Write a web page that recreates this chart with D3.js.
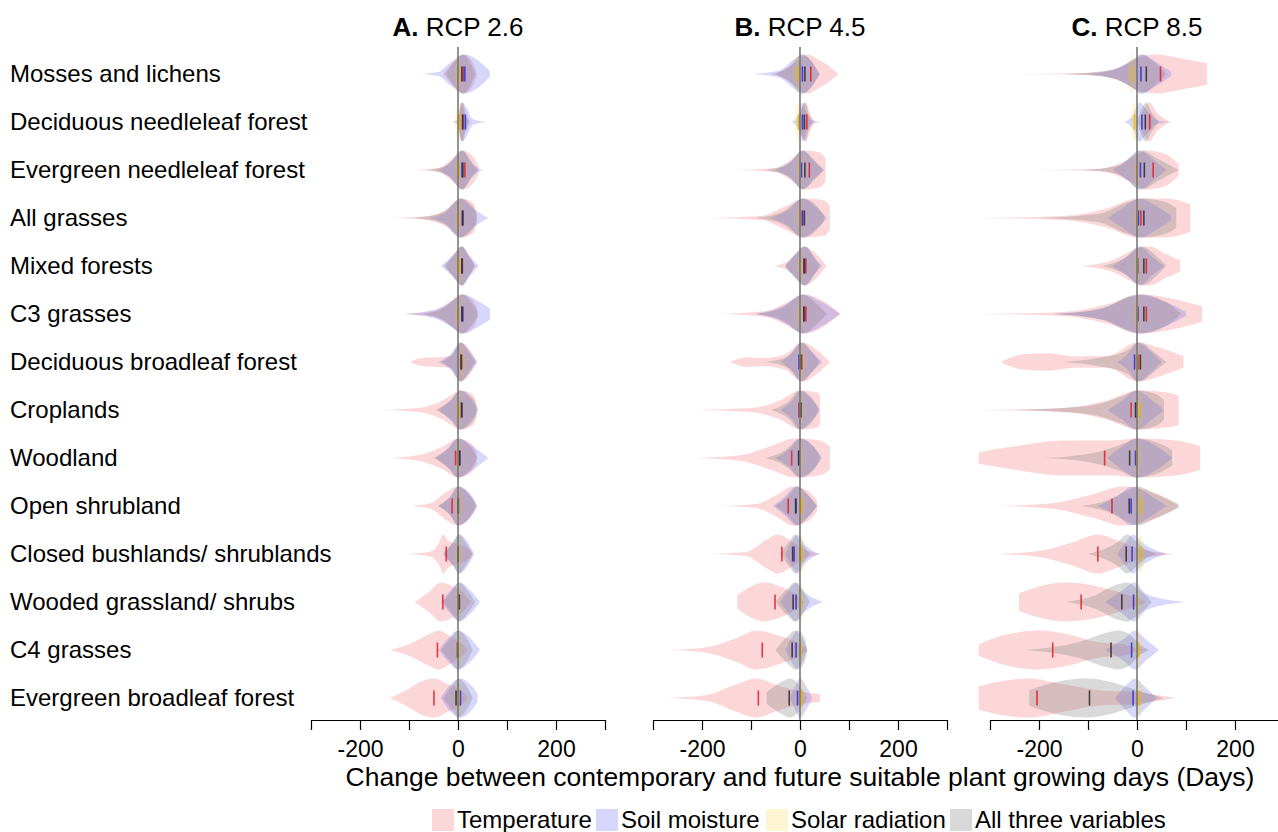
<!DOCTYPE html>
<html><head><meta charset="utf-8">
<script src="https://cdn.jsdelivr.net/npm/d3@7/dist/d3.min.js"></script>
<style>body{margin:0;background:#fff}svg{display:block;font-family:"Liberation Sans",Arial,sans-serif}</style>
</head><body><svg id="c" width="1278" height="832"></svg>
<script>
const rows = ["Mosses and lichens","Deciduous needleleaf forest","Evergreen needleleaf forest","All grasses","Mixed forests","C3 grasses","Deciduous broadleaf forest","Croplands","Woodland","Open shrubland","Closed bushlands/ shrublands","Wooded grassland/ shrubs","C4 grasses","Evergreen broadleaf forest"];
const panelLetters = ["A.","B.","C."];
const panelNames = ["RCP 2.6","RCP 4.5","RCP 8.5"];
const tickValues = [-300,-200,-100,0,100,200,300];
const tickLabels = ["","-200","","0","","200",""];
const variables = ["Temperature","Soil moisture","Solar radiation","All three variables"];

// violin profiles: flat [day, relativeWidth, day, relativeWidth, ...]
const tempA = [
 [-30,0,-10,0.6,10,1,25,0.8,40,0],
 [0,0,6,0.8,10,1,16,0.5,25,0],
 [-90,0,-40,0.1,-10,0.6,10,1,30,0.7,42,0.2],
 [-135,0,-60,0.1,-20,0.5,5,1,30,0.8,38,0.3],
 [-25,0,-8,0.6,8,1,20,0.6,35,0],
 [-110,0,-50,0.15,-15,0.6,8,1,30,0.7,40,0.2],
 [-98,0,-75,0.2,-45,0.25,-15,0.3,5,1,25,0.6,38,0],
 [-156,0,-80,0.1,-30,0.5,5,1,30,0.8,38,0.4],
 [-135,0,-70,0.2,-30,0.6,0,1,25,0.8,38,0.3],
 [-95,0,-55,0.15,-25,0.7,0,1,25,0.6,35,0.2],
 [-108,0,-60,0.1,-40,0.5,-30,1,-20,0.7,0,0.5,20,0.3,30,0],
 [-88,0,-60,0.5,-35,1,-10,0.8,10,0.5,25,0],
 [-139,0,-100,0.3,-60,0.8,-40,1,-15,0.7,5,0.4,20,0],
 [-139,0,-110,0.35,-70,0.9,-50,1,-20,0.7,5,0.4,20,0]
];
const soilA = [
 [-78,0,-40,0.1,-15,0.6,15,1,35,0.8,65,0.15],
 [-12,0,0,0.15,8,1,18,0.7,30,0.15,58,0],
 [-40,0,-15,0.4,8,1,30,0.3,50,0],
 [-60,0,-25,0.3,5,1,30,0.5,62,0],
 [-35,0,-12,0.5,8,1,25,0.5,42,0],
 [-112,0,-50,0.2,-10,0.7,10,1,45,0.6,65,0.3],
 [-40,0,-15,0.4,5,1,25,0.5,40,0],
 [-40,0,-15,0.5,5,1,25,0.6,42,0],
 [-45,0,-20,0.5,0,1,30,0.6,62,0],
 [-40,0,-15,0.5,0,1,25,0.6,40,0],
 [-30,0,-10,0.6,2,1,20,0.6,33,0],
 [-35,0,-15,0.6,3,1,25,0.6,45,0],
 [-40,0,-20,0.6,0,1,25,0.6,45,0],
 [-35,0,-15,0.7,5,1,25,0.7,40,0.2]
];
const solarA = [
 [-9,0,0,1,9,0],[-7,0,2,1,11,0],[-7,0,2,1,11,0],[-8,0,1,1,10,0],[-6,0,3,1,12,0],[-8,0,1,1,10,0],[-1,0,8,1,17,0],
 [-6,0,3,1,12,0],[-8,0,1,1,10,0],[-8,0,1,1,10,0],[-8,0,1,1,10,0],[-7,0,2,1,11,0],[-8,0,1,1,10,0],[-8,0,1,1,10,0]
];
const allA = [
 [-25,0,-5,0.7,10,1,25,0.6,35,0],
 [0,0,7,1,15,0.4,22,0],
 [-60,0,-20,0.3,8,1,28,0.4,40,0],
 [-90,0,-30,0.3,5,1,30,0.6,38,0.2],
 [-28,0,-8,0.6,8,1,22,0.5,35,0],
 [-70,0,-30,0.3,8,1,30,0.5,40,0.1],
 [-35,0,-12,0.4,5,1,22,0.5,35,0],
 [-45,0,-15,0.5,5,1,30,0.6,38,0.2],
 [-50,0,-20,0.5,0,1,25,0.6,40,0],
 [-40,0,-15,0.5,0,1,25,0.5,38,0],
 [-30,0,-10,0.6,2,1,18,0.5,30,0],
 [-30,0,-12,0.6,2,1,22,0.5,35,0],
 [-35,0,-15,0.6,0,1,20,0.5,30,0],
 [-30,0,-10,0.7,0,1,20,0.5,30,0]
];
const tempB = [
 [-50,0,-15,0.5,15,1,40,0.7,60,0.4,78,0],
 [-5,0,5,0.8,12,1,20,0.5,30,0],
 [-130,0,-50,0.1,-20,0.5,10,1,40,0.9,52,0.6],
 [-187,0,-80,0.1,-30,0.6,10,1,50,0.9,61,0.6],
 [-55,0,-20,0.3,10,1,30,0.7,54,0],
 [-163,0,-70,0.15,-25,0.6,10,1,45,0.7,82,0],
 [-143,0,-110,0.25,-75,0.2,-30,0.4,5,1,35,0.6,61,0],
 [-218,0,-100,0.1,-40,0.5,0,1,35,0.9,41,0.7],
 [-207,0,-120,0.15,-60,0.6,-10,1,40,0.9,61,0.6],
 [-160,0,-90,0.1,-45,0.6,-15,1,15,0.8,35,0.3],
 [-184,0,-110,0.1,-70,0.7,-45,1,-20,0.7,5,0.3,40,0],
 [-128,0.35,-100,0.8,-75,1,-40,0.8,-10,0.4,10,0],
 [-269,0,-200,0.1,-130,0.6,-90,1,-40,0.7,0,0.3,15,0],
 [-269,0,-190,0.15,-130,0.7,-90,1,-40,0.6,10,0.3,41,0.2]
];
const soilB = [
 [-95,0,-40,0.2,-15,0.7,5,1,25,0.6,40,0],
 [-17,0,-5,0.3,5,1,15,0.4,25,0.1,44,0],
 [-50,0,-20,0.4,5,1,30,0.4,50,0],
 [-60,0,-25,0.4,5,1,35,0.5,55,0],
 [-30,0,-10,0.6,10,1,30,0.4,45,0],
 [-90,0,-35,0.4,5,1,45,0.6,82,0],
 [-40,0,-15,0.5,0,1,25,0.5,45,0],
 [-40,0,-15,0.5,0,1,25,0.5,40,0],
 [-50,0,-20,0.5,0,1,30,0.5,45,0],
 [-55,0,-30,0.5,-8,1,15,0.6,35,0],
 [-30,0,-15,0.7,-5,1,10,0.5,41,0],
 [-40,0,-20,0.7,-8,1,10,0.5,48,0],
 [-30,0,-15,0.7,-5,1,10,0.6,15,0],
 [-20,0,-8,0.7,0,1,15,0.5,25,0]
];
const solarB = [
 [-14,0,-5,1,4,0],[-12,0,-3,1,6,0],[-9,0,0,1,9,0],[-9,0,0,1,9,0],[-8,0,1,1,10,0],[-9,0,0,1,9,0],[-6,0,3,1,12,0],
 [-8,0,1,1,10,0],[-9,0,0,1,9,0],[-6,0,3,1,12,0],[-6,0,3,1,12,0],[-8,0,1,1,10,0],[-8,0,1,1,10,0],[-6,0,3,1,12,0]
];
const allB = [
 [-60,0,-25,0.3,5,1,25,0.6,40,0],
 [-5,0,5,0.8,10,1,18,0.4,25,0],
 [-70,0,-20,0.4,5,1,30,0.5,45,0.1],
 [-90,0,-30,0.4,5,1,35,0.6,50,0.1],
 [-30,0,-10,0.6,10,1,28,0.5,40,0],
 [-90,0,-30,0.4,5,1,35,0.5,55,0],
 [-70,0,-25,0.3,5,1,25,0.5,40,0],
 [-60,0,-25,0.4,0,1,25,0.6,38,0.1],
 [-70,0,-30,0.4,0,1,28,0.6,40,0.1],
 [-50,0,-25,0.5,-5,1,15,0.6,35,0],
 [-40,0,-20,0.7,-10,1,5,0.5,20,0],
 [-50,0,-25,0.7,-10,1,5,0.6,20,0],
 [-50,0,-25,0.7,-10,1,5,0.6,15,0],
 [-68,0.3,-40,0.8,-20,1,0,0.6,15,0]
];
const tempC = [
 [-258,0,-100,0.05,-30,0.4,10,0.9,40,1,90,0.8,143,0.55],
 [5,0,15,0.7,25,1,40,0.5,68,0],
 [-218,0,-80,0.05,-20,0.5,20,1,60,0.8,85,0.3],
 [-323,0,-150,0.1,-60,0.5,0,1,60,1,109,0.7],
 [-116,0,-50,0.3,0,0.9,25,1,60,0.6,88,0.3],
 [-320,0,-150,0.1,-60,0.5,10,1,70,0.8,133,0.4],
 [-275,0.05,-230,0.4,-180,0.45,-130,0.3,-60,0.3,0,1,50,0.7,95,0.3],
 [-323,0,-150,0.1,-60,0.5,0,1,60,0.9,85,0.75],
 [-323,0.3,-250,0.6,-150,0.9,-50,0.9,0,1,80,0.9,129,0.6],
 [-279,0,-170,0.15,-90,0.6,-30,1,20,0.8,60,0.4,85,0],
 [-286,0,-200,0.15,-130,0.6,-80,1,-40,0.7,0,0.3,40,0.1,75,0],
 [-241,0.45,-200,0.8,-150,1,-100,0.9,-50,0.6,0,0.2,20,0],
 [-323,0.3,-280,0.7,-200,1,-140,0.8,-80,0.4,-30,0.3,0,0.1,20,0],
 [-323,0.6,-270,0.9,-220,1,-150,0.7,-80,0.4,0,0.3,40,0.15,80,0]
];
const soilC = [
 [-100,0,-40,0.3,-10,0.7,10,1,40,0.6,70,0.1],
 [-26,0,-10,0.3,5,1,20,0.6,40,0.1,68,0],
 [-50,0,-20,0.5,5,1,35,0.5,60,0],
 [-60,0,-30,0.5,5,1,40,0.6,70,0.1],
 [-50,0,-20,0.5,5,1,30,0.5,55,0],
 [-170,0,-70,0.3,-10,0.9,10,1,60,0.6,100,0.1],
 [-40,0,-15,0.5,0,1,30,0.5,50,0],
 [-60,0,-30,0.5,0,1,30,0.5,55,0],
 [-60,0,-30,0.6,0,1,40,0.6,72,0],
 [-80,0,-40,0.5,-10,1,30,0.5,60,0],
 [-40,0,-20,0.7,-8,1,10,0.6,60,0],
 [-65,0,-30,0.6,-5,1,20,0.4,99,0],
 [-65,0,-25,0.6,-5,1,20,0.5,45,0],
 [-45,0,-20,0.7,-5,1,15,0.6,40,0]
];
const solarC = [
 [-19,0,-10,1,-1,0],[-14,0,-5,1,4,0],[-9,0,0,1,9,0],[-9,0,0,1,9,0],[-8,0,1,1,10,0],[-9,0,0,1,9,0],[-8,0,1,1,10,0],
 [-4,0,5,1,14,0],[-8,0,1,1,10,0],[-2,0,7,1,16,0],[-2,0,7,1,16,0],[-9,0,0,1,9,0],[-6,0,3,1,12,0],[-4,0,5,1,14,0]
];
const allC = [
 [-150,0,-50,0.2,-10,0.7,10,1,35,0.6,60,0],
 [0,0,10,0.7,18,1,30,0.5,45,0],
 [-110,0,-40,0.2,10,1,40,0.6,85,0],
 [-200,0,-80,0.2,-20,0.8,10,1,60,0.8,80,0.5],
 [-70,0,-25,0.4,10,1,40,0.5,60,0],
 [-170,0,-70,0.3,0,1,60,0.6,90,0],
 [-150,0,-80,0.2,-20,0.6,5,1,35,0.5,60,0],
 [-250,0,-100,0.2,-30,0.7,0,1,40,0.8,55,0.5],
 [-190,0,-100,0.2,-30,0.7,0,1,50,0.7,72,0.4],
 [-115,0,-60,0.3,-20,0.8,0,1,40,0.6,85,0.1],
 [-100,0,-40,0.6,-20,1,0,0.6,20,0.2,40,0],
 [-145,0,-90,0.3,-40,0.9,-20,1,0,0.7,20,0.3,30,0],
 [-225,0,-120,0.4,-60,0.9,-40,1,-15,0.8,5,0.3,25,0],
 [-220,0.4,-150,0.9,-100,1,-50,0.8,0,0.4,55,0]
];
// medians (days)
const medTempA = [11,9,14,9,9,8,6,7,-5,-12,-24,-31,-42,-49];
const medSoilA = [14,15,8,9,8,10,7,7,4,1,0,3,0,5];
const medSolarA = [0,2,2,1,3,1,8,3,1,1,1,2,1,1];
const medAllA = [8,10,10,10,8,8,7,8,3,0,0,2,-1,-4];
const medTempB = [22,14,19,5,12,12,4,-2,-17,-24,-37,-51,-77,-85];
const medSoilB = [5,5,3,5,8,8,-2,-1,-3,-8,-12,-8,-8,-5];
const medSolarB = [-5,-3,0,0,1,0,3,1,0,3,3,1,1,3];
const medAllB = [10,9,10,9,9,8,2,2,-2,-9,-15,-14,-16,-22];
const medTempC = [48,26,33,8,19,19,3,-12,-66,-51,-80,-114,-172,-204];
const medSoilC = [8,10,7,3,2,2,-5,-2,-3,-12,-10,-7,-11,-8];
const medSolarC = [-10,-5,0,0,1,0,1,5,1,7,7,0,3,5];
const medAllC = [19,17,15,14,14,14,7,-3,-15,-16,-22,-31,-53,-97];

const fills = ["rgb(240,110,120)","rgb(110,110,240)","rgb(250,215,80)","rgb(120,120,120)"];
const opac = [0.28,0.28,0.25,0.28];
const medColors = ["#e3262e","#3434e0","#e6b800","#333333"];

const panels = [
  {violins:[tempA,soilA,solarA,allA], meds:[medTempA,medSoilA,medSolarA,medAllA], x0:311},
  {violins:[tempB,soilB,solarB,allB], meds:[medTempB,medSoilB,medSolarB,medAllB], x0:653},
  {violins:[tempC,soilC,solarC,allC], meds:[medTempC,medSoilC,medSolarC,medAllC], x0:990}
];

const svg = d3.select("#c");
const y = d3.scalePoint().domain(rows).range([74, 698]);
const hw = d3.scaleLinear().domain([0,1]).range([0,19.5]);
const axisY = 720;

svg.selectAll("text.row").data(rows).join("text")
  .attr("x",10).attr("y",d=>y(d)).attr("dy","0.35em")
  .attr("font-size",24).attr("fill","#000").text(d=>d);

panels.forEach((p,pi)=>{
  const x = d3.scaleLinear().domain([-300,300]).range([p.x0, p.x0+294]);
  const g = svg.append("g");
  const area = d3.area().curve(d3.curveMonotoneX);
  p.violins.forEach((arr,vi)=>{
    arr.forEach((flat,ri)=>{
      const pts=[];
      for(let i=0;i<flat.length;i+=2) pts.push([flat[i],flat[i+1]]);
      const cy=y(rows[ri]);
      area.x(d=>x(d[0])).y0(d=>cy-hw(d[1])).y1(d=>cy+hw(d[1]));
      g.append("path").attr("d",area(pts)).attr("fill",fills[vi]).attr("fill-opacity",opac[vi]);
    });
  });
  p.meds.forEach((arr,vi)=>{
    g.selectAll(null).data(arr).join("line")
      .attr("x1",d=>x(d)).attr("x2",d=>x(d))
      .attr("y1",(d,i)=>y(rows[i])-7.5).attr("y2",(d,i)=>y(rows[i])+7.5)
      .attr("stroke",medColors[vi]).attr("stroke-width",1.6).attr("stroke-opacity",0.9);
  });
  g.append("line").attr("x1",x(0)).attr("x2",x(0)).attr("y1",47).attr("y2",axisY)
    .attr("stroke","#707070").attr("stroke-width",1.5);
  const ax = g.append("g").attr("transform",`translate(0,${axisY})`)
    .call(d3.axisBottom(x).tickValues(tickValues).tickFormat((d,i)=>tickLabels[i]).tickSize(10).tickSizeOuter(0));
  ax.select(".domain").attr("stroke","#000").attr("stroke-width",1.2);
  ax.selectAll(".tick line").attr("stroke","#000").attr("stroke-width",1.2);
  ax.selectAll(".tick text").attr("font-size",23).attr("font-family","Liberation Sans, Arial, sans-serif").attr("fill","#000").attr("dy","1.05em");
  const t = svg.append("text").attr("x",x(0)).attr("y",36).attr("text-anchor","middle").attr("font-size",26);
  t.append("tspan").attr("font-weight","bold").text(panelLetters[pi]+" ");
  t.append("tspan").text(panelNames[pi]);
});

svg.append("text").attr("x",800).attr("y",786).attr("text-anchor","middle").attr("font-size",26.5)
  .text("Change between contemporary and future suitable plant growing days (Days)");

const legX = [432,596,766,950];
const lg = svg.append("g");
variables.forEach((v,i)=>{
  lg.append("rect").attr("x",legX[i]).attr("y",809).attr("width",22).attr("height",22)
    .attr("fill",fills[i]).attr("fill-opacity",opac[i]);
  lg.append("text").attr("x",legX[i]+25).attr("y",828).attr("font-size",24).text(v);
});
</script></body></html>
